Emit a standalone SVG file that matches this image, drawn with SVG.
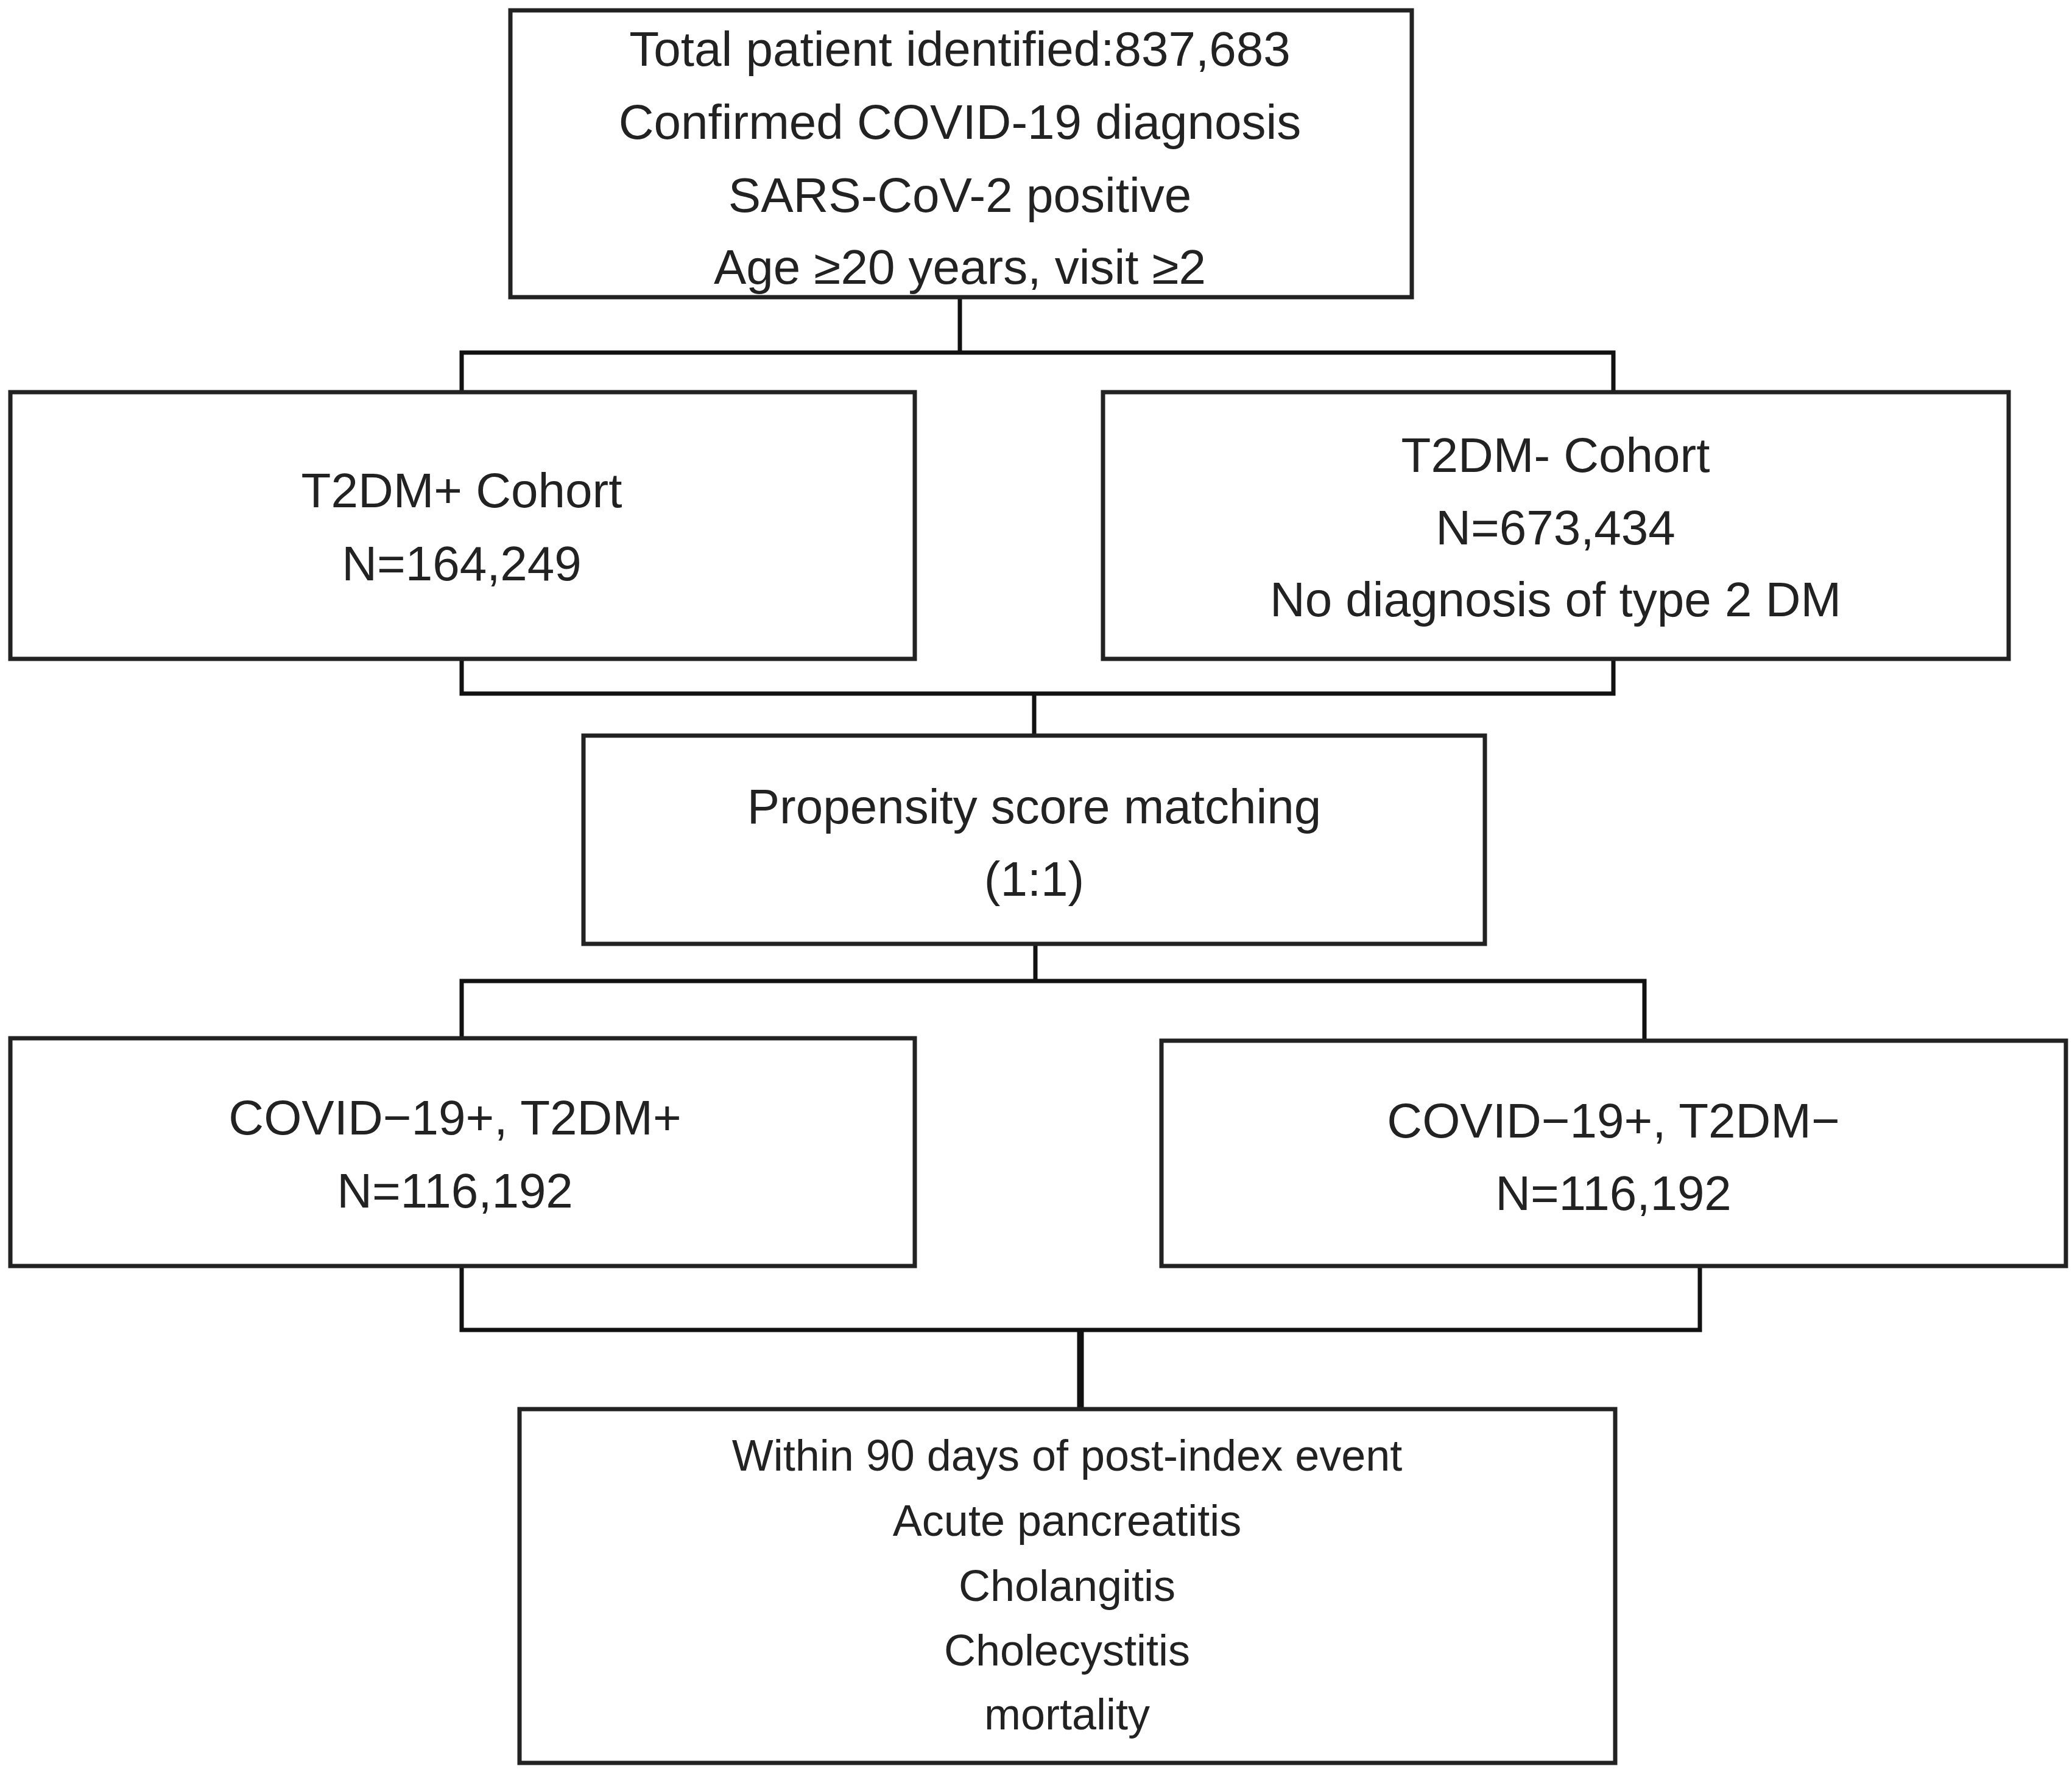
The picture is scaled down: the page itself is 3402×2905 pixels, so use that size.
<svg xmlns="http://www.w3.org/2000/svg" width="3402" height="2905" viewBox="0 0 3402 2905">
<style>
.b{fill:#fff;stroke:#222;stroke-width:7}
.t{font-family:"Liberation Sans",Arial,sans-serif;font-size:80px;fill:#222;text-anchor:middle;dominant-baseline:central}
.s{font-size:72px}
.c{fill:none;stroke:#111;stroke-width:7}
</style>
<rect width="3402" height="2905" fill="#fff"/>
<g id="connectors">
<path class="c" d="M1576 488V579M758 644V579H2649V644"/>
<path class="c" d="M758 1082V1139H2649V1082M1698 1139V1208"/>
<path class="c" d="M1700 1550V1611M758 1705V1611H2700V1709"/>
<path class="c" d="M758 2079V2184H2791V2079"/>
<path class="c" style="stroke-width:11" d="M1774 2184V2314"/>
</g>
<g id="top"><rect class="b" x="838" y="17" width="1480" height="471"/>
<text class="t" x="1576" y="80">Total patient identified:837,683</text>
<text class="t" x="1576" y="200">Confirmed COVID-19 diagnosis</text>
<text class="t" x="1576" y="320">SARS-CoV-2 positive</text>
<text class="t" x="1576" y="438">Age ≥20 years, visit ≥2</text></g>
<g id="t2dmplus"><rect class="b" x="17" y="644" width="1485" height="438"/>
<text class="t" x="758" y="805">T2DM+ Cohort</text>
<text class="t" x="758" y="925">N=164,249</text></g>
<g id="t2dmminus"><rect class="b" x="1811" y="644" width="1487" height="438"/>
<text class="t" x="2554" y="747">T2DM- Cohort</text>
<text class="t" x="2554" y="866">N=673,434</text>
<text class="t" x="2554" y="984">No diagnosis of type 2 DM</text></g>
<g id="psm"><rect class="b" x="958" y="1208" width="1480" height="342"/>
<text class="t" x="1698" y="1324">Propensity score matching</text>
<text class="t" x="1698" y="1443">(1:1)</text></g>
<g id="c1"><rect class="b" x="17" y="1705" width="1485" height="374"/>
<text class="t" x="747" y="1835">COVID−19+, T2DM+</text>
<text class="t" x="747" y="1955">N=116,192</text></g>
<g id="c2"><rect class="b" x="1907" y="1709" width="1485" height="370"/>
<text class="t" x="2649" y="1840">COVID−19+, T2DM−</text>
<text class="t" x="2649" y="1959">N=116,192</text></g>
<g id="outcome"><rect class="b" x="853" y="2314" width="1799" height="581"/>
<text class="t s" x="1752" y="2390">Within 90 days of post-index event</text>
<text class="t s" x="1752" y="2497">Acute pancreatitis</text>
<text class="t s" x="1752" y="2604">Cholangitis</text>
<text class="t s" x="1752" y="2710">Cholecystitis</text>
<text class="t s" x="1752" y="2815">mortality</text></g>
</svg>
